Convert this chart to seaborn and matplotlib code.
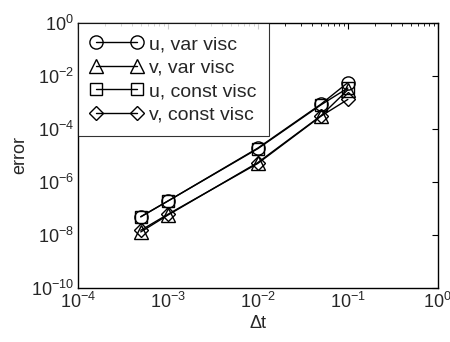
import numpy as np
import pandas as pd
import matplotlib
matplotlib.use("Agg")
import matplotlib.pyplot as plt
import seaborn as sns
from matplotlib.ticker import LogLocator, FixedLocator, NullLocator

dt = [5e-4, 1e-3, 1e-2, 5e-2, 1e-1]
u_var = [4.9e-8, 1.9e-7, 1.9e-5, 8.5e-4, 5.6e-3]
v_var = [1.3e-8, 5.6e-8, 5.4e-6, 3.1e-4, 3.0e-3]
u_const = [4.8e-8, 1.9e-7, 1.8e-5, 8.0e-4, 3.5e-3]
v_const = [1.5e-8, 6.0e-8, 5.0e-6, 3.0e-4, 1.3e-3]
labels = ["u, var visc", "v, var visc", "u, const visc", "v, const visc"]
xticks = [1e-4, 1e-3, 1e-2, 1e-1, 1e0]
yticks = [1e-10, 1e-8, 1e-6, 1e-4, 1e-2, 1e0]

sns.set_theme(style="white")
plt.rcParams['font.family'] = ['Liberation Sans', 'DejaVu Sans']
plt.rcParams['mathtext.fontset'] = 'custom'
plt.rcParams['mathtext.rm'] = 'Liberation Sans'
plt.rcParams['mathtext.it'] = 'Liberation Sans'

rows = []
for lab, vals in zip(labels, [u_var, v_var, u_const, v_const]):
    for x, y in zip(dt, vals):
        rows.append({"dt": x, "err": y, "series": lab})
df = pd.DataFrame(rows)

fig, ax = plt.subplots(figsize=(4.5, 3.42), dpi=100)
fig.subplots_adjust(left=0.173, right=0.973, top=0.933, bottom=0.158)

markers = {labels[0]: "o", labels[1]: "^", labels[2]: "s", labels[3]: "D"}
sizes_ms = {labels[0]: 9.5, labels[1]: 9.5, labels[2]: 8.5, labels[3]: 7}
for lab in labels:
    sub = df[df.series == lab]
    sns.lineplot(data=sub, x="dt", y="err", ax=ax, color="black", linewidth=1,
                 marker=markers[lab], markersize=sizes_ms[lab],
                 markerfacecolor="none", markeredgecolor="black",
                 markeredgewidth=1, label=lab, legend=False)

ax.set_xscale("log")
ax.set_yscale("log")
ax.set_xlim(1e-4, 1e0)
ax.set_ylim(1e-10, 1e0)
ax.xaxis.set_major_locator(FixedLocator(xticks))
ax.xaxis.set_minor_locator(LogLocator(base=10, subs=np.arange(2, 10), numticks=20))
ax.yaxis.set_major_locator(FixedLocator(yticks))
ax.yaxis.set_minor_locator(NullLocator())
ax.set_xticklabels([r"$10^{%d}$" % int(np.log10(t)) for t in xticks])
ax.set_yticklabels([r"$10^{%d}$" % int(np.log10(t)) for t in yticks])
ax.tick_params(which="both", direction="in", top=True, right=True, labelsize=13,
               color="black", pad=3)
ax.tick_params(which="major", length=4, width=0.8)
ax.tick_params(which="minor", length=2, width=0.6)
for s in ax.spines.values():
    s.set_color("black")
    s.set_linewidth(1)
ax.set_xlabel("Δt", fontsize=13, labelpad=2)
ax.set_ylabel("error", fontsize=13, labelpad=2)

leg = ax.legend(loc="upper left", numpoints=2, handlelength=2.7, fontsize=14,
                frameon=True, fancybox=False, borderaxespad=0, borderpad=0.65,
                labelspacing=0.3, handletextpad=0.3)
leg.get_frame().set_edgecolor("black")
leg.get_frame().set_linewidth(0.8)

fig.savefig("out.png", dpi=100)
